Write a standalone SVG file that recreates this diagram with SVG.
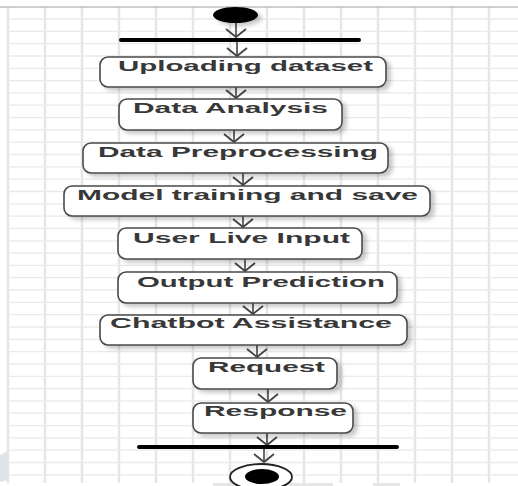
<svg xmlns="http://www.w3.org/2000/svg" width="518" height="486" viewBox="0 0 518 486">
<defs>
<style>
.gv{stroke:#e6e6e6;stroke-width:2.5;fill:none}
.gh{stroke:#eaeaea;stroke-width:1.3;fill:none}
.box{fill:#ffffff;stroke:#4a4a4a;stroke-width:1.6;filter:url(#sh)}
.lbl{font-family:"Liberation Sans",Arial,sans-serif;font-weight:bold;font-size:14px;fill:#383838}
.edge{stroke:#444444;stroke-width:1.6;fill:none;marker-end:url(#chev)}
.bar{stroke:#000000;stroke-width:4;stroke-linecap:round}
</style>
<filter id="sh" x="-10%" y="-20%" width="130%" height="160%">
<feDropShadow dx="4" dy="3" stdDeviation="2" flood-color="#000000" flood-opacity="0.22"/>
</filter>
<marker id="chev" markerUnits="userSpaceOnUse" orient="auto" refX="0" refY="0" markerWidth="24" markerHeight="24" viewBox="-12 -12 24 24" overflow="visible">
<path d="M -8 -10 L 0 0 L -8 10" fill="none" stroke="#444444" stroke-width="1.8"/>
</marker>
</defs>
<rect x="0" y="0" width="518" height="486" fill="#ffffff"/>
<g id="grid">
<path class="gv" d="M8 7V483M45 7V483M82 7V483M119 7V483M156 7V483M193 7V483M230 7V483M267 7V483M304 7V483M341 7V483M378 7V483M415 7V483M452 7V483M489 7V483"/>
<path class="gh" d="M8 19H518M8 31.3H518M8 43.6H518M8 56H518M8 68.3H518M8 80.6H518M8 92.9H518M8 105.2H518M8 117.6H518M8 129.9H518M8 142.2H518M8 154.5H518M8 166.8H518M8 179.2H518M8 191.5H518M8 203.8H518M8 216.1H518M8 228.4H518M8 240.8H518M8 253.1H518M8 265.4H518M8 277.7H518M8 290H518M8 302.4H518M8 314.7H518M8 327H518M8 339.3H518M8 351.6H518M8 364H518M8 376.3H518M8 388.6H518M8 400.9H518M8 413.2H518M8 425.6H518M8 437.9H518M8 450.2H518M8 462.5H518M8 474.8H518"/>
<line x1="0" y1="7" x2="518" y2="7" stroke="#a0a0a0" stroke-width="1.2"/>
<polygon points="0,455 8,451 8,480 0,482" fill="#dde5ea"/>
<rect x="213" y="483" width="120" height="3" fill="#e6e6e6"/>
<rect x="373" y="483" width="27" height="3" fill="#e6e6e6"/>
</g>
<g id="connectors">
<line class="edge" x1="236" y1="23" x2="236" y2="37"/>
<line class="edge" x1="237" y1="42" x2="237" y2="56"/>
<line class="edge" x1="236" y1="87" x2="236" y2="98"/>
<line class="edge" x1="234" y1="130" x2="234" y2="142"/>
<line class="edge" x1="243" y1="173" x2="243" y2="185"/>
<line class="edge" x1="243" y1="216" x2="243" y2="227"/>
<line class="edge" x1="245" y1="259" x2="245" y2="271"/>
<line class="edge" x1="253" y1="303" x2="253" y2="314"/>
<line class="edge" x1="257" y1="345" x2="257" y2="357"/>
<line class="edge" x1="268" y1="389" x2="268" y2="402"/>
<line class="edge" x1="267" y1="433" x2="267" y2="445"/>
<line class="edge" x1="264" y1="449" x2="264" y2="462"/>
</g>
<g id="start">
<ellipse cx="235.5" cy="15" rx="22.5" ry="8" fill="#000000" filter="url(#sh)"/>
</g>
<g id="fork">
<line class="bar" x1="121" y1="40" x2="359" y2="40"/>
</g>
<g id="uploading">
<rect class="box" x="100" y="57" width="286" height="30" rx="8"/>
<text class="lbl" x="118" y="71" textLength="255" lengthAdjust="spacingAndGlyphs">Uploading dataset</text>
</g>
<g id="analysis">
<rect class="box" x="119" y="99" width="223" height="31" rx="8"/>
<text class="lbl" x="133" y="113" textLength="195" lengthAdjust="spacingAndGlyphs">Data Analysis</text>
</g>
<g id="preprocessing">
<rect class="box" x="83" y="143" width="305" height="30" rx="8"/>
<text class="lbl" x="98" y="157" textLength="280" lengthAdjust="spacingAndGlyphs">Data Preprocessing</text>
</g>
<g id="training">
<rect class="box" x="64" y="186" width="366" height="30" rx="8"/>
<text class="lbl" x="77" y="200" textLength="341" lengthAdjust="spacingAndGlyphs">Model training and save</text>
</g>
<g id="userinput">
<rect class="box" x="118" y="228" width="244" height="31" rx="8"/>
<text class="lbl" x="133" y="243" textLength="217" lengthAdjust="spacingAndGlyphs">User Live Input</text>
</g>
<g id="prediction">
<rect class="box" x="118" y="272" width="279" height="31" rx="8"/>
<text class="lbl" x="137" y="287" textLength="248" lengthAdjust="spacingAndGlyphs">Output Prediction</text>
</g>
<g id="chatbot">
<rect class="box" x="100" y="315" width="307" height="30" rx="8"/>
<text class="lbl" x="110" y="328" textLength="282" lengthAdjust="spacingAndGlyphs">Chatbot Assistance</text>
</g>
<g id="request">
<rect class="box" x="193" y="358" width="144" height="31" rx="8"/>
<text class="lbl" x="208" y="372" textLength="117" lengthAdjust="spacingAndGlyphs">Request</text>
</g>
<g id="response">
<rect class="box" x="193" y="403" width="160" height="30" rx="8"/>
<text class="lbl" x="204" y="416" textLength="143" lengthAdjust="spacingAndGlyphs">Response</text>
</g>
<g id="join">
<line class="bar" x1="139" y1="447" x2="397" y2="447"/>
</g>
<g id="end">
<ellipse cx="261" cy="477" rx="31" ry="13" fill="#ffffff" stroke="#222222" stroke-width="1.8"/>
<ellipse cx="262" cy="476.5" rx="17" ry="7.5" fill="#000000"/>
</g>
</svg>
